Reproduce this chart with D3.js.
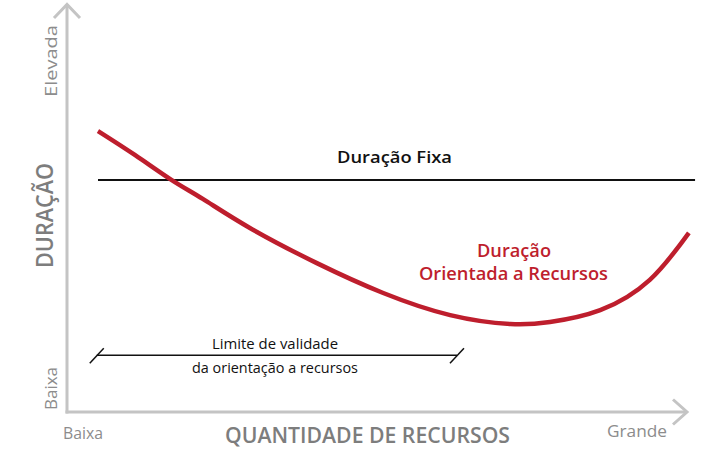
<!DOCTYPE html>
<html><head><meta charset="utf-8">
<script src="https://cdn.jsdelivr.net/npm/d3@7"></script>
<style>
html,body{margin:0;padding:0;background:#fff;}
svg{display:block;font-family:"Open Sans",sans-serif;}
</style></head>
<body><svg id="c" width="727" height="455"></svg>
<script>
// Data (abstract units: 0 = Baixa, 100 = Grande / Elevada)
const curveX = [5.0, 11.0, 16.9, 21.9, 29.5, 40.3, 51.0, 61.8, 71.5, 77.9, 86.0, 94.0, 100.3];
const curveY = [68.7, 62.8, 56.7, 52.1, 45.0, 36.4, 29.1, 23.7, 21.5, 22.0, 24.9, 32.3, 43.8];
const fixedX = [5.0, 101.3];
const fixedY = [56.7, 56.7];
const limitX = [4.8, 62.9];
const limitY = [13.9, 13.9];
const xTickLabels = ["Baixa", "Grande"];
const yTickLabels = ["Baixa", "Elevada"];

const svg = d3.select("#c");
const x = d3.scaleLinear().domain([0, 100]).range([67, 687]);
const y = d3.scaleLinear().domain([0, 100]).range([412, 3]);

const axisColor = "#c4c4c4";
const labelColor = "#8c8c8c";
const titleColor = "#7d7d7d";
const red = "#be1e2d";

// axes
svg.append("line").attr("x1", x(0)).attr("y1", y(0)+1.5).attr("x2", x(0)).attr("y2", y(100)+1)
  .attr("stroke", axisColor).attr("stroke-width", 3);
svg.append("line").attr("x1", x(0)-1.5).attr("y1", y(0)).attr("x2", x(100)).attr("y2", y(0))
  .attr("stroke", axisColor).attr("stroke-width", 3);
// arrowheads
svg.append("path").attr("d", `M${x(0)-13},${y(100)+15} L${x(0)},${y(100)+1.5} L${x(0)+13},${y(100)+15}`)
  .attr("fill", "none").attr("stroke", axisColor).attr("stroke-width", 3);
svg.append("path").attr("d", `M${x(100)-14},${y(0)-12.5} L${x(100)},${y(0)} L${x(100)-14},${y(0)+12.5}`)
  .attr("fill", "none").attr("stroke", axisColor).attr("stroke-width", 3);

// fixed duration line
const line = d3.line().x(d => x(d[0])).y(d => y(d[1]));
svg.append("path").attr("d", line(d3.zip(fixedX, fixedY)))
  .attr("fill", "none").attr("stroke", "#111").attr("stroke-width", 2);

// resource-oriented curve
const cl = d3.line().x(d => x(d[0])).y(d => y(d[1])).curve(d3.curveNatural);
svg.append("path").attr("d", cl(d3.zip(curveX, curveY)))
  .attr("fill", "none").attr("stroke", red).attr("stroke-width", 4.5).attr("stroke-linecap", "butt");

// limit line with slashes
svg.append("path").attr("d", line(d3.zip(limitX, limitY)))
  .attr("fill", "none").attr("stroke", "#111").attr("stroke-width", 1.5);
[limitX[0], limitX[1]].forEach(v => {
  svg.append("line").attr("x1", x(v)-7).attr("y1", y(limitY[0])+8).attr("x2", x(v)+7).attr("y2", y(limitY[0])-7)
    .attr("stroke", "#111").attr("stroke-width", 1.5);
});

function txt(s, px, py, opts) {
  const t = svg.append("text").attr("x", px).attr("y", py).text(s)
    .attr("font-size", opts.size).attr("font-weight", opts.weight || 400)
    .attr("fill", opts.color).attr("text-anchor", opts.anchor || "middle");
  if (opts.rotate) t.attr("transform", `rotate(-90,${px},${py})`);
  if (opts.len) t.attr("textLength", opts.len).attr("lengthAdjust", "spacingAndGlyphs");
  return t;
}

txt("Duração Fixa", 394.5, 163, {size: 16.5, weight: 600, color: "#111", len: 115});
txt("Duração", 514, 257, {size: 18, weight: 600, color: red, len: 74});
txt("Orientada a Recursos", 513.5, 280, {size: 18, weight: 600, color: red, len: 189});
txt("Limite de validade", 275, 349, {size: 15, color: "#111", len: 126});
txt("da orientação a recursos", 275, 373, {size: 15, color: "#111", len: 166});

txt(xTickLabels[0], 83, 439, {size: 16.5, color: labelColor, len: 40});
txt(xTickLabels[1], 637, 437, {size: 16.5, color: labelColor, len: 60});
txt("QUANTIDADE DE RECURSOS", 367.5, 443, {size: 22, weight: 600, color: titleColor, len: 285});

txt(yTickLabels[0], 57, 388.5, {size: 16.5, color: labelColor, rotate: true, len: 43});
txt(yTickLabels[1], 57, 61, {size: 16.5, color: labelColor, rotate: true, len: 72});
txt("DURAÇÃO", 53, 215.5, {size: 23, weight: 600, color: titleColor, rotate: true, len: 105});
</script></body></html>
